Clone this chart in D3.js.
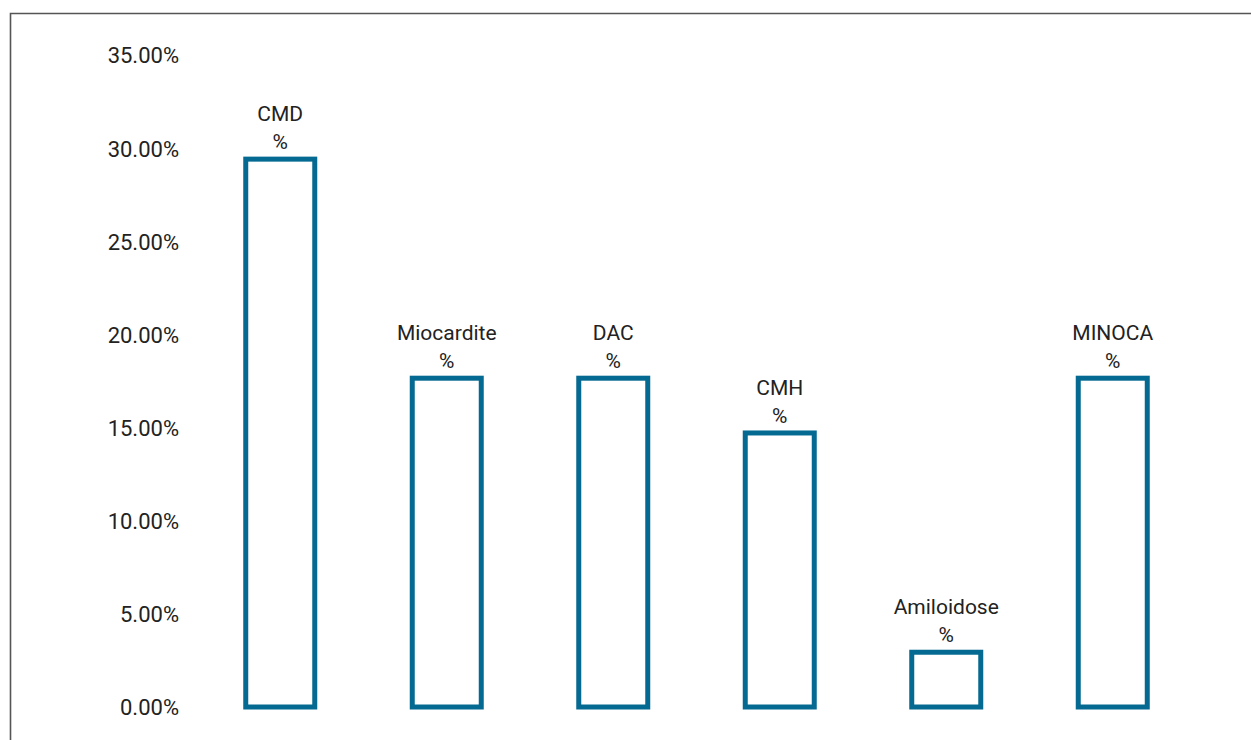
<!DOCTYPE html>
<html>
<head>
<meta charset="utf-8">
<script src="https://cdn.jsdelivr.net/npm/d3@7/dist/d3.min.js"></script>
<style>
  html, body { margin: 0; padding: 0; background: #fff; }
  svg { display: block; }
</style>
</head>
<body>
<svg id="chart" width="1251" height="740"></svg>
<script>
// Diagnoses and their share of cases (%)
const categories = ["CMD", "Miocardite", "DAC", "CMH", "Amiloidose", "MINOCA"];
const shares = [29.41, 17.65, 17.65, 14.71, 2.94, 17.65];
const yTicks = [0, 5, 10, 15, 20, 25, 30, 35];

const W = 1251, H = 740;
const svg = d3.select("#chart");
const barColor = "#046a91";
const textColor = "#222";
const fontFamily = "Roboto, 'Liberation Sans', Arial, sans-serif";

// frame
svg.append("path")
  .attr("d", `M10.5,${H} L10.5,13.5 L${W},13.5`)
  .attr("fill", "none")
  .attr("stroke", "#555")
  .attr("stroke-width", 1.6);

const x = d3.scaleBand()
  .domain(categories)
  .range([197, 1196])
  .paddingInner(0.57)
  .paddingOuter(0.285);

const y = d3.scaleLinear()
  .domain([0, 35])
  .range([707, 55]);

// y axis: labels only
const yAxis = d3.axisLeft(y)
  .tickValues(yTicks)
  .tickFormat(d => d3.format(".2f")(d) + "%")
  .tickSize(0)
  .tickPadding(0);

const gy = svg.append("g")
  .attr("transform", "translate(179,0)")
  .call(yAxis);
gy.select(".domain").remove();
gy.selectAll("text")
  .attr("fill", textColor)
  .attr("font-family", fontFamily)
  .attr("font-size", 22)
  .attr("dy", "0.36em");

const bw = 69;
// bars (outlined)
svg.selectAll("rect.bar")
  .data(categories)
  .join("rect")
  .attr("class", "bar")
  .attr("x", d => x(d) + x.bandwidth() / 2 - bw / 2)
  .attr("width", bw)
  .attr("y", (d, i) => y(shares[i]))
  .attr("height", (d, i) => y(0) - y(shares[i]))
  .attr("fill", "#fff")
  .attr("stroke", barColor)
  .attr("stroke-width", 5);

// category labels above each bar
const labels = svg.selectAll("text.lab")
  .data(categories)
  .join("text")
  .attr("class", "lab")
  .attr("text-anchor", "middle")
  .attr("fill", textColor)
  .attr("font-family", fontFamily)
  .attr("font-size", 21)
  .attr("x", d => x(d) + x.bandwidth() / 2)
  .attr("y", (d, i) => y(shares[i]) - 10);

labels.append("tspan")
  .attr("x", d => x(d) + x.bandwidth() / 2)
  .attr("dy", "-1.35em")
  .text(d => d);
labels.append("tspan")
  .attr("x", d => x(d) + x.bandwidth() / 2)
  .attr("dy", "1.35em")
  .text("%");
</script>
</body>
</html>
